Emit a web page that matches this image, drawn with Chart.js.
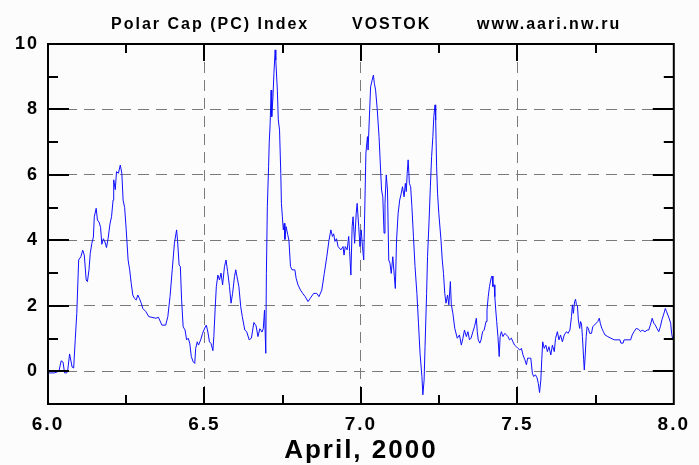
<!DOCTYPE html>
<html>
<head>
<meta charset="utf-8">
<script src="https://cdn.jsdelivr.net/npm/chart.js@4/dist/chart.umd.min.js"></script>
<style>
    html, body { margin: 0; padding: 0; background: #fcfcfc; }
    #pc_wrap { width: 699px; height: 465px; }
</style>
</head>
<body>
<div id="pc_wrap"><canvas id="pc_chart" width="699" height="465"></canvas></div>
<script>
// time in days of April 2000 and PC index
const days = [
    6.000, 6.020, 6.035, 6.042, 6.048, 6.053, 6.060, 6.063, 6.069, 6.077, 6.082, 6.087, 6.092, 6.098, 6.105, 6.111,
    6.116, 6.122, 6.126, 6.131, 6.135, 6.140, 6.145, 6.148, 6.154, 6.158, 6.163, 6.168, 6.172, 6.177, 6.182, 6.187,
    6.192, 6.198, 6.203, 6.208, 6.210, 6.215, 6.219, 6.225, 6.231, 6.236, 6.240, 6.245, 6.250, 6.256, 6.261, 6.266,
    6.271, 6.276, 6.282, 6.287, 6.292, 6.298, 6.303, 6.313, 6.322, 6.345, 6.353, 6.364, 6.376, 6.383, 6.390, 6.397,
    6.404, 6.411, 6.414, 6.419, 6.423, 6.427, 6.432, 6.438, 6.443, 6.448, 6.453, 6.458, 6.464, 6.469, 6.472, 6.477,
    6.481, 6.488, 6.494, 6.501, 6.506, 6.511, 6.516, 6.521, 6.527, 6.530, 6.534, 6.538, 6.543, 6.548, 6.553, 6.558,
    6.564, 6.569, 6.574, 6.580, 6.585, 6.590, 6.596, 6.600, 6.606, 6.610, 6.616, 6.621, 6.629, 6.635, 6.643, 6.650,
    6.658, 6.665, 6.671, 6.677, 6.684, 6.688, 6.692, 6.696, 6.698, 6.701, 6.705, 6.707, 6.710, 6.713, 6.715, 6.719,
    6.722, 6.726, 6.728, 6.733, 6.736, 6.740, 6.744, 6.746, 6.749, 6.752, 6.755, 6.757, 6.761, 6.766, 6.770, 6.775,
    6.780, 6.789, 6.793, 6.799, 6.807, 6.814, 6.822, 6.831, 6.838, 6.849, 6.859, 6.866, 6.875, 6.883, 6.891, 6.898,
    6.904, 6.909, 6.913, 6.917, 6.922, 6.927, 6.936, 6.943, 6.946, 6.950, 6.956, 6.961, 6.964, 6.968, 6.972, 6.975,
    6.980, 6.985, 6.988, 6.993, 6.997, 7.001, 7.005, 7.009, 7.013, 7.016, 7.021, 7.023, 7.028, 7.031, 7.036, 7.040,
    7.043, 7.047, 7.052, 7.058, 7.063, 7.066, 7.070, 7.074, 7.077, 7.081, 7.085, 7.089, 7.093, 7.097, 7.102, 7.107,
    7.110, 7.114, 7.119, 7.124, 7.129, 7.133, 7.138, 7.142, 7.145, 7.148, 7.151, 7.155, 7.159, 7.163, 7.168, 7.173,
    7.179, 7.184, 7.189, 7.195, 7.198, 7.202, 7.205, 7.210, 7.213, 7.218, 7.222, 7.226, 7.230, 7.233, 7.237, 7.239,
    7.242, 7.245, 7.249, 7.256, 7.260, 7.264, 7.268, 7.272, 7.277, 7.281, 7.286, 7.289, 7.294, 7.300, 7.308, 7.315,
    7.321, 7.326, 7.331, 7.337, 7.342, 7.347, 7.352, 7.358, 7.363, 7.369, 7.372, 7.375, 7.380, 7.384, 7.389, 7.394,
    7.400, 7.403, 7.407, 7.411, 7.416, 7.419, 7.422, 7.426, 7.428, 7.431, 7.434, 7.438, 7.442, 7.445, 7.449, 7.454,
    7.460, 7.465, 7.470, 7.475, 7.481, 7.486, 7.491, 7.497, 7.502, 7.508, 7.513, 7.518, 7.524, 7.529, 7.533, 7.539,
    7.543, 7.548, 7.552, 7.558, 7.563, 7.567, 7.571, 7.575, 7.578, 7.581, 7.586, 7.591, 7.596, 7.601, 7.607, 7.612,
    7.618, 7.622, 7.628, 7.633, 7.638, 7.644, 7.650, 7.657, 7.662, 7.668, 7.673, 7.676, 7.679, 7.683, 7.686, 7.689,
    7.692, 7.695, 7.699, 7.702, 7.705, 7.708, 7.712, 7.714, 7.717, 7.720, 7.723, 7.727, 7.731, 7.737, 7.741, 7.746,
    7.752, 7.757, 7.762, 7.765, 7.770, 7.775, 7.780, 7.789, 7.799, 7.810, 7.828, 7.831, 7.838, 7.841, 7.862, 7.867,
    7.873, 7.880, 7.888, 7.894, 7.899, 7.908, 7.915, 7.920, 7.925, 7.931, 7.936, 7.941, 7.946, 7.952, 7.957, 7.962,
    7.967, 7.973, 7.977, 7.981, 7.985, 7.990, 7.993, 7.997, 8.000
];
const pcIndex = [
    -0.05, -0.05, 0.00, 0.32, 0.28, -0.05, -0.05, 0.02, 0.53, 0.13, 0.10, 0.96, 1.77, 3.40, 3.50, 3.70,
    3.55, 2.79, 2.74, 3.10, 3.60, 3.90, 4.10, 4.72, 4.98, 4.62, 4.56, 4.40, 3.88, 4.05, 3.95, 3.78,
    4.05, 4.50, 4.72, 5.23, 5.85, 5.55, 6.10, 6.05, 6.30, 6.05, 5.23, 5.00, 4.32, 3.40, 3.10, 2.69,
    2.33, 2.23, 2.18, 2.33, 2.23, 2.08, 1.92, 1.82, 1.67, 1.62, 1.65, 1.41, 1.41, 1.67, 2.28, 3.10,
    3.91, 4.32, 4.00, 3.25, 3.20, 2.18, 1.36, 1.26, 0.96, 1.01, 0.86, 0.45, 0.29, 0.24, 0.70, 0.90,
    0.80, 0.96, 1.16, 1.32, 1.41, 1.20, 0.90, 0.85, 0.63, 1.06, 1.87, 2.59, 2.94, 2.79, 3.00, 2.64,
    3.20, 3.40, 3.05, 2.59, 2.08, 2.38, 2.89, 3.10, 2.79, 2.59, 1.97, 1.67, 1.26, 1.21, 0.96, 1.01,
    1.49, 1.39, 1.06, 1.30, 1.20, 1.30, 1.87, 0.55, 2.99, 5.03, 6.25, 6.97, 7.58, 8.59, 7.78, 8.39,
    9.10, 9.82, 9.51, 8.59, 7.68, 7.37, 6.05, 5.13, 4.72, 4.32, 4.52, 4.03, 4.42, 4.18, 4.00, 3.20,
    3.10, 3.10, 2.84, 2.64, 2.48, 2.38, 2.28, 2.13, 2.23, 2.38, 2.38, 2.28, 2.48, 2.99, 3.50, 4.00,
    4.32, 4.12, 4.20, 3.97, 4.05, 3.81, 3.71, 3.81, 3.55, 3.81, 3.71, 4.12, 3.66, 2.94, 4.42, 4.72,
    3.91, 4.83, 5.13, 4.42, 3.81, 4.32, 3.81, 3.40, 5.23, 6.66, 7.17, 6.76, 7.98, 8.69, 8.90, 9.05,
    8.80, 8.59, 8.03, 7.17, 6.15, 5.54, 5.33, 4.22, 5.13, 6.00, 5.54, 3.40, 3.30, 2.99, 3.50, 2.89,
    2.53, 4.01, 4.83, 5.23, 5.44, 5.64, 5.33, 5.74, 5.49, 6.05, 6.46, 5.74, 5.64, 5.03, 4.11, 3.20,
    2.38, 1.47, 0.55, -0.16, -0.72, -0.27, 0.75, 2.38, 3.50, 4.62, 5.64, 6.56, 7.17, 7.78, 8.14, 7.68,
    6.25, 5.44, 4.83, 4.01, 3.40, 2.99, 2.38, 2.08, 2.33, 2.03, 2.74, 2.03, 1.77, 1.31, 1.01, 1.11,
    0.80, 1.01, 1.26, 1.06, 1.21, 0.96, 1.01, 1.21, 1.36, 1.62, 1.21, 0.96, 0.86, 0.96, 1.21, 1.26,
    1.52, 1.87, 2.28, 2.59, 2.84, 2.91, 2.59, 2.64, 2.28, 1.87, 1.52, 1.06, 0.45, 1.06, 1.21, 1.06,
    1.16, 1.11, 1.06, 0.96, 1.01, 0.90, 0.80, 0.75, 0.70, 0.65, 0.70, 0.50, 0.35, 0.20, 0.40, 0.40,
    0.40, -0.06, -0.16, -0.11, -0.20, -0.37, -0.65, -0.27, 0.35, 0.90, 0.70, 0.80, 0.60, 0.75, 0.50, 0.80,
    0.60, 1.00, 1.21, 0.96, 1.11, 0.90, 1.11, 1.21, 1.16, 1.26, 1.67, 2.03, 1.77, 2.13, 2.20, 2.03,
    2.00, 1.57, 1.31, 1.52, 1.45, 1.06, 0.35, 0.04, 0.50, 1.06, 1.36, 1.31, 1.16, 1.16, 1.36, 1.41,
    1.47, 1.52, 1.62, 1.47, 1.31, 1.21, 1.11, 1.06, 1.01, 0.96, 0.96, 0.86, 0.86, 0.96, 0.96, 1.11,
    1.21, 1.31, 1.28, 1.21, 1.26, 1.21, 1.26, 1.26, 1.41, 1.62, 1.47, 1.41, 1.31, 1.21, 1.36, 1.57,
    1.72, 1.92, 1.82, 1.72, 1.62, 1.47, 1.16, 0.96, 0.96
];

const headerParts = ['Polar Cap (PC) Index', 'VOSTOK', 'www.aari.nw.ru'];
const xAxisTitle = 'April, 2000';
const yGridValues = [0, 2, 4, 6, 8];
const xGridValues = [6.5, 7.0, 7.5];

const fontFamily = 'Arial, "Liberation Sans", sans-serif';

// the original uses a widely spaced bold font, so spread all text a bit
function setSpacing(chart) {
    chart.ctx.letterSpacing = '2px';
}

const bgPlugin = {
    id: 'pcBackground',
    beforeLayout(chart) {
        setSpacing(chart);
    },
    beforeDraw(chart) {
        const ctx = chart.ctx;
        setSpacing(chart);
        ctx.save();
        ctx.fillStyle = '#fcfcfc';
        ctx.fillRect(0, 0, chart.width, chart.height);
        ctx.restore();
    }
};

// header line above the plot
const headerPlugin = {
    id: 'pcHeader',
    afterDraw(chart) {
        const ctx = chart.ctx;
        const xs = [111, 352, 477];
        ctx.save();
        ctx.font = 'bold 16px ' + fontFamily;
        ctx.fillStyle = '#000';
        ctx.textBaseline = 'alphabetic';
        ctx.textAlign = 'left';
        headerParts.forEach((t, i) => ctx.fillText(t, xs[i], 29));
        ctx.restore();
    }
};

// black frame and inward ticks on all four sides
const framePlugin = {
    id: 'pcFrame',
    afterDraw(chart) {
        const ctx = chart.ctx;
        const {left, right, top, bottom} = chart.chartArea;
        const xScale = chart.scales.x;
        const yScale = chart.scales.y;

        ctx.save();
        ctx.strokeStyle = '#000';
        ctx.lineWidth = 2;
        ctx.strokeRect(left, top, right - left, bottom - top);

        ctx.beginPath();
        for (let v = 0; v <= 9; v++) {
            let y = Math.round(yScale.getPixelForValue(v));
            let len = (v % 2 === 0) ? 21 : 10;
            ctx.moveTo(left, y);
            ctx.lineTo(left + len, y);
            ctx.moveTo(right, y);
            ctx.lineTo(right - len, y);
        }
        for (let v = 6.25; v < 8; v += 0.25) {
            let x = Math.round(xScale.getPixelForValue(v));
            let len = (Math.abs(v * 2 - Math.round(v * 2)) < 1e-6) ? 17 : 9;
            ctx.moveTo(x, bottom);
            ctx.lineTo(x, bottom - len);
            ctx.moveTo(x, top);
            ctx.lineTo(x, top + len);
        }
        ctx.stroke();
        ctx.restore();
    }
};

const chartData = {
    datasets: [{
        data: days.map((d, i) => ({x: d, y: pcIndex[i]})),
        borderColor: '#1010ff',
        borderWidth: 1,
        pointRadius: 0,
        tension: 0,
        fill: false
    }]
};

const chartOptions = {
    responsive: false,
    animation: false,
    layout: {
        padding: {top: 44, right: 17, left: 0, bottom: 0}
    },
    plugins: {
        legend: {display: false},
        tooltip: {enabled: false},
        title: {display: false}
    },
    scales: {
        x: {
            type: 'linear',
            min: 6,
            max: 8,
            afterFit: scale => { scale.height = 61; },
            border: {display: false, dash: [11, 7]},
            grid: {
                drawTicks: false,
                lineWidth: 1,
                color: c => xGridValues.some(v => Math.abs(v - c.tick.value) < 1e-6) ? '#7a7a7a' : 'transparent'
            },
            ticks: {
                stepSize: 0.5,
                autoSkip: false,
                maxRotation: 0,
                padding: 9,
                color: '#000',
                font: {family: fontFamily, weight: 'bold', size: 19},
                callback: v => Number(v).toFixed(1)
            },
            title: {
                display: true,
                text: xAxisTitle,
                color: '#000',
                font: {family: fontFamily, weight: 'bold', size: 26, lineHeight: 1},
                padding: {top: 0, bottom: 1}
            }
        },
        y: {
            min: -1,
            max: 10,
            afterFit: scale => { scale.width = 48; },
            border: {display: false, dash: [11, 7]},
            grid: {
                drawTicks: false,
                lineWidth: 1,
                color: c => yGridValues.includes(c.tick.value) ? '#7a7a7a' : 'transparent'
            },
            ticks: {
                stepSize: 1,
                autoSkip: false,
                padding: 9,
                color: '#000',
                font: {family: fontFamily, weight: 'bold', size: 18},
                callback: v => (v >= 0 && v % 2 === 0) ? String(v) : ''
            }
        }
    }
};

new Chart(document.getElementById('pc_chart'), {
    type: 'line',
    data: chartData,
    options: chartOptions,
    plugins: [bgPlugin, headerPlugin, framePlugin]
});
</script>
</body>
</html>
